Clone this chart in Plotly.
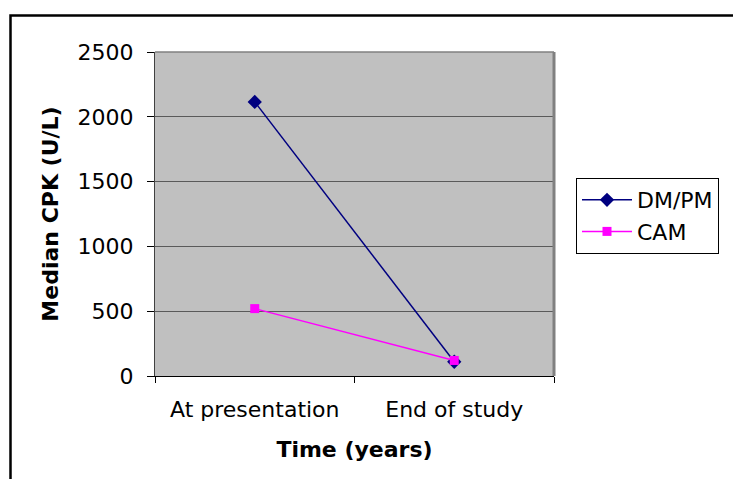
import plotly.graph_objects as go

categories = ["At presentation", "End of study"]
dmpm_values = [2115, 110]
cam_values = [520, 120]
y_ticks = [0, 500, 1000, 1500, 2000, 2500]

W, H = 733, 479
L, R, T, B = 155, 554, 52, 376
pw, ph = R - L, B - T

def px_x(x):
    return (x - L) / pw

def px_y(y):
    return (B - y) / ph

FONT = "DejaVu Sans"
FS = 22

fig = go.Figure()
fig.add_trace(go.Scatter(
    x=categories, y=dmpm_values, name="DM/PM", mode="lines+markers",
    line=dict(color="#000080", width=1.5),
    marker=dict(symbol="diamond", size=11, color="#000080"),
))
fig.add_trace(go.Scatter(
    x=categories, y=cam_values, name="CAM", mode="lines+markers",
    line=dict(color="#FF00FF", width=1.5),
    marker=dict(symbol="square", size=9, color="#FF00FF"),
))

fig.update_layout(
    width=W, height=H,
    margin=dict(l=L, r=W - R, t=T, b=H - B, autoexpand=False),
    paper_bgcolor="white",
    plot_bgcolor="#C0C0C0",
    font=dict(family=FONT, size=FS, color="black"),
    showlegend=True,
    legend=dict(
        x=px_x(576), y=px_y(178), xanchor="left", yanchor="top",
        bgcolor="white", bordercolor="black", borderwidth=1,
        font=dict(family=FONT, size=FS, color="black"),
        tracegroupgap=0, itemwidth=50,
    ),
    xaxis=dict(
        type="category", range=[-0.5, 1.5],
        tickson="boundaries", ticks="outside", ticklen=6, tickcolor="black",
        showline=True, linecolor="black", linewidth=1,
        showgrid=False, zeroline=False,
        ticklabelstandoff=14,
        title=dict(text="<b>Time (years)</b>", standoff=20,
                   font=dict(family=FONT, size=FS)),
        fixedrange=True,
    ),
    yaxis=dict(
        range=[0, 2500], tickvals=y_ticks, ticktext=[str(v) for v in y_ticks],
        ticks="outside", ticklen=7, tickcolor="black",
        showline=True, linecolor="#404040", linewidth=1,
        showgrid=True, gridcolor="#5A5A5A", gridwidth=1,
        zeroline=False, ticklabelstandoff=9,
        title=dict(text="<b>Median CPK (U/L)</b>", standoff=12,
                   font=dict(family=FONT, size=FS)),
        fixedrange=True,
    ),
    shapes=[
        dict(type="line", xref="paper", yref="paper", x0=0, x1=1, y0=1, y1=1,
             line=dict(color="#808080", width=1.5), layer="above"),
        dict(type="line", xref="paper", yref="paper", x0=1, x1=1, y0=0, y1=1,
             line=dict(color="#808080", width=3), layer="above"),
        dict(type="rect", xref="paper", yref="paper",
             x0=px_x(10.5), x1=px_x(745), y0=px_y(15.5), y1=px_y(495),
             line=dict(color="black", width=2.5), layer="above"),
    ],
)

fig.write_html("out.html")
